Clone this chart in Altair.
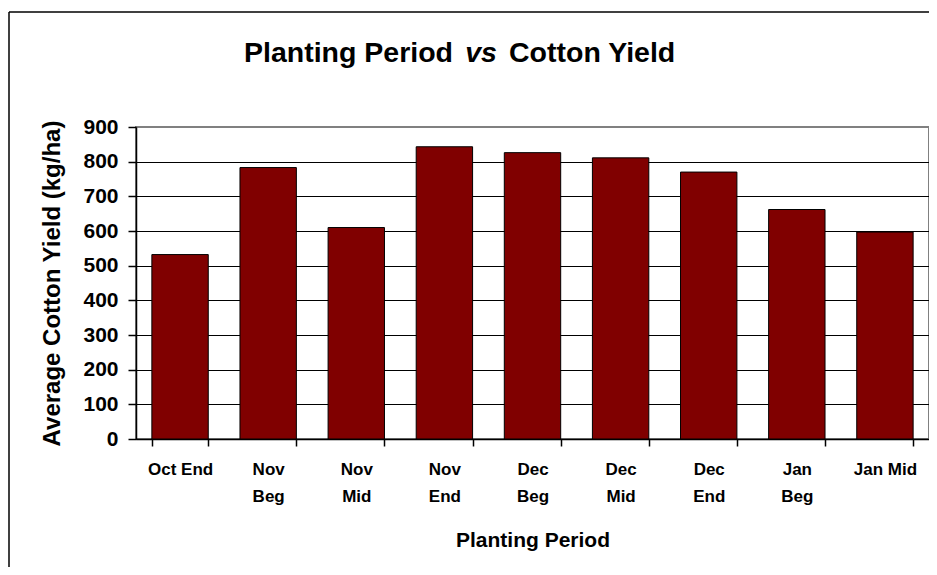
import altair as alt
import pandas as pd

periods = ["Oct End", "Nov Beg", "Nov Mid", "Nov End", "Dec Beg",
           "Dec Mid", "Dec End", "Jan Beg", "Jan Mid"]
yields = [532, 783, 610, 843, 826, 811, 770, 662, 597]
single_line = ["Oct End", "Jan Mid"]
y_ticks = [0, 100, 200, 300, 400, 500, 600, 700, 800, 900]

df = pd.DataFrame({"period": periods, "yield": yields})

W, H = 793, 312
BOLD = "Liberation Sans"

label_expr = ("!isValid(datum.value) ? '' : (("
              + " || ".join(f"datum.value == '{s}'" for s in single_line)
              + ") ? datum.value : split(datum.value, ' '))")

bars = alt.Chart(df).mark_bar(color="#800000", stroke="black", strokeWidth=1).encode(
    x=alt.X("period:N", sort=periods,
            scale=alt.Scale(paddingInner=0.36, paddingOuter=0.18),
            axis=alt.Axis(title="Planting Period", labelAngle=0,
                          labelFont=BOLD, labelFontWeight="bold", labelFontSize=17,
                          labelColor="black", labelLineHeight=27, labelPadding=15,
                          labelExpr=label_expr,
                          tickBand="extent", tickColor="black", tickSize=7, tickWidth=1.5,
                          domainColor="black", domainWidth=1.5,
                          titleFont=BOLD, titleFontWeight="bold", titleFontSize=21,
                          titleColor="black", titlePadding=25, grid=False)),
    y=alt.Y("yield:Q",
            scale=alt.Scale(domain=[0, 900], nice=False),
            axis=alt.Axis(title="Average Cotton Yield (kg/ha)", values=y_ticks,
                          labelFont=BOLD, labelFontWeight="bold", labelFontSize=21,
                          labelColor="black", labelPadding=10,
                          tickColor="black", tickSize=8, tickWidth=1.5,
                          domainColor="black", domainWidth=1.5,
                          grid=True,
                          gridColor=alt.condition("datum.value == 900",
                                                  alt.value("#808080"), alt.value("black")),
                          gridWidth=1,
                          titleFont=BOLD, titleFontWeight="bold", titleFontSize=24,
                          titleColor="black", titlePadding=18)),
)

t1 = alt.Chart(pd.DataFrame({"t": ["Planting Period"]})).mark_text(
    font=BOLD, fontWeight="bold", fontSize=28.5, align="right", baseline="alphabetic",
    color="black").encode(x=alt.value(317), y=alt.value(-65), text="t:N")
t2 = alt.Chart(pd.DataFrame({"t": ["vs"]})).mark_text(
    font=BOLD, fontWeight="bold", fontStyle="italic", fontSize=28.5, align="center",
    baseline="alphabetic", color="black").encode(x=alt.value(345), y=alt.value(-65), text="t:N")
t3 = alt.Chart(pd.DataFrame({"t": ["Cotton Yield"]})).mark_text(
    font=BOLD, fontWeight="bold", fontSize=28.5, align="left", baseline="alphabetic",
    color="black").encode(x=alt.value(373), y=alt.value(-65), text="t:N")

frame_top = alt.Chart(pd.DataFrame({"a": [0]})).mark_rule(color="black", strokeWidth=1.5).encode(
    x=alt.value(-127), x2=alt.value(W + 20), y=alt.value(-115))
frame_left = alt.Chart(pd.DataFrame({"a": [0]})).mark_rule(color="black", strokeWidth=1.5).encode(
    x=alt.value(-127), y=alt.value(-115), y2=alt.value(H + 200))

chart = alt.layer(bars, t1, t2, t3, frame_top, frame_left).properties(
    width=W, height=H,
    autosize=alt.AutoSizeParams(type="none"),
    padding={"left": 128, "top": 119, "right": 0, "bottom": 128},
    background="white",
).configure_view(stroke="#808080", strokeWidth=2)

chart.save("out.html", embed_options={"renderer": "svg", "actions": False})
